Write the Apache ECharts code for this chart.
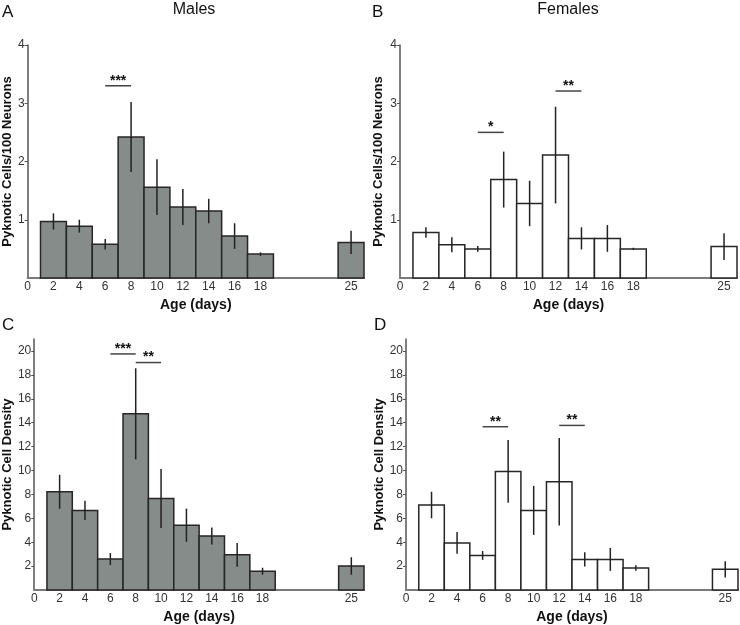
<!DOCTYPE html>
<html>
<head>
<meta charset="utf-8">
<script src="https://cdn.jsdelivr.net/npm/echarts@6/dist/echarts.min.js"></script>
<style>
  html, body { margin: 0; padding: 0; background: #fff; }
  #main { width: 740px; height: 625px; }
</style>
</head>
<body>
<div id="main"></div>
<script>
// ages (days) and bar values, error half-widths
const ages = [2, 4, 6, 8, 10, 12, 14, 16, 18, 25];
const xTickLabels = [0, 2, 4, 6, 8, 10, 12, 14, 16, 18, 25];

const malesCells = [0.97, 0.89, 0.58, 2.42, 1.56, 1.22, 1.15, 0.72, 0.41, 0.61];
const malesCellsErr = [0.14, 0.11, 0.09, 0.60, 0.48, 0.31, 0.21, 0.22, 0.03, 0.20];
const femalesCells = [0.78, 0.57, 0.50, 1.69, 1.28, 2.11, 0.68, 0.68, 0.50, 0.54];
const femalesCellsErr = [0.09, 0.13, 0.05, 0.48, 0.39, 0.83, 0.19, 0.23, 0.02, 0.23];

const malesDensity = [8.22, 6.66, 2.59, 14.74, 7.66, 5.42, 4.51, 2.94, 1.57, 2.01];
const malesDensityErr = [1.42, 0.80, 0.50, 3.81, 2.47, 1.39, 0.71, 0.99, 0.29, 0.73];
const femalesDensity = [7.11, 3.94, 2.89, 9.92, 6.66, 9.06, 2.56, 2.56, 1.84, 1.73];
const femalesDensityErr = [1.11, 0.91, 0.37, 2.63, 2.05, 3.66, 0.60, 0.96, 0.23, 0.68];

const cellsTicks = [1, 2, 3, 4];
const densityTicks = [2, 4, 6, 8, 10, 12, 14, 16, 18, 20];

// significance brackets: [from, to, height, stars]
const sigA = [[6, 8, 3.30, '***']];
const sigB = [[6, 8, 2.50, '*'], [12, 14, 3.21, '**']];
const sigC = [[6, 8, 19.75, '***'], [8, 10, 19.03, '**']];
const sigD = [[6, 8, 13.66, '**'], [12, 14, 13.77, '**']];

const FONT = '"Liberation Sans", Arial, sans-serif';
const MALE_FILL = '#868c8a';

const chart = echarts.init(document.getElementById('main'), null, { renderer: 'canvas' });

function makeBarSeries(idx, values, errs, fill) {
  return {
    type: 'custom',
    xAxisIndex: idx,
    yAxisIndex: idx,
    clip: false,
    data: ages.map((a, i) => [a, values[i], errs[i]]),
    renderItem: function (params, api) {
      const x = api.value(0), y = api.value(1), e = api.value(2);
      const p0 = api.coord([x - 1, y]);
      const p1 = api.coord([x + 1, 0]);
      const top = api.coord([x, y + e]);
      const bot = api.coord([x, y - e]);
      return {
        type: 'group',
        children: [
          {
            type: 'rect',
            shape: { x: p0[0], y: p0[1], width: p1[0] - p0[0], height: p1[1] - p0[1] },
            style: { fill: fill, stroke: '#262626', lineWidth: 1.5 }
          },
          {
            type: 'line',
            shape: { x1: top[0], y1: top[1], x2: bot[0], y2: bot[1] },
            style: { stroke: '#222', lineWidth: 1.5 }
          }
        ]
      };
    }
  };
}

function makeSigSeries(idx, sig) {
  return {
    type: 'custom',
    xAxisIndex: idx,
    yAxisIndex: idx,
    clip: false,
    data: sig.map(s => [s[0], s[1], s[2]]),
    renderItem: function (params, api) {
      const a = api.coord([api.value(0), api.value(2)]);
      const b = api.coord([api.value(1), api.value(2)]);
      return {
        type: 'group',
        children: [
          {
            type: 'line',
            shape: { x1: a[0], y1: a[1], x2: b[0], y2: b[1] },
            style: { stroke: '#444', lineWidth: 1.5 }
          },
          {
            type: 'text',
            style: {
              text: sig[params.dataIndex][3],
              x: (a[0] + b[0]) / 2,
              y: a[1] + 2,
              align: 'center',
              verticalAlign: 'bottom',
              font: 'bold 14px ' + FONT,
              fill: '#111'
            }
          }
        ]
      };
    }
  };
}

function makeXAxis(idx) {
  return {
    type: 'value',
    gridIndex: idx,
    min: 0,
    max: 26,
    interval: 1,
    name: 'Age (days)',
    nameLocation: 'middle',
    nameGap: 20,
    nameTextStyle: { fontFamily: FONT, fontWeight: 'bold', fontSize: 14, color: '#111' },
    axisLine: { show: true, lineStyle: { color: '#7a7a7a', width: 2 } },
    axisTick: { show: false },
    splitLine: { show: false },
    axisLabel: {
      customValues: xTickLabels,
      margin: 3,
      fontFamily: FONT,
      fontSize: 12,
      color: '#333'
    }
  };
}

function makeYAxis(idx, max, ticks, name, gap) {
  return {
    type: 'value',
    gridIndex: idx,
    min: 0,
    max: max,
    name: name,
    nameLocation: 'middle',
    nameGap: gap,
    nameTextStyle: { fontFamily: FONT, fontWeight: 'bold', fontSize: 13, color: '#111' },
    axisLine: { show: true, lineStyle: { color: '#555', width: 1.5 } },
    axisTick: { show: true, customValues: ticks, length: 3, lineStyle: { color: '#555' } },
    splitLine: { show: false },
    axisLabel: {
      customValues: ticks,
      margin: 3,
      fontFamily: FONT,
      fontSize: 12,
      color: '#333'
    }
  };
}

const titleStyle = { fontFamily: FONT, fontWeight: 'normal', color: '#111' };

const option = {
  backgroundColor: '#fff',
  animation: false,
  title: [
    { text: 'A', left: 2, top: 4, padding: 0, textStyle: Object.assign({ fontSize: 17 }, titleStyle) },
    { text: 'Males', left: 194, top: 2, padding: 0, textAlign: 'center', textStyle: Object.assign({ fontSize: 16 }, titleStyle) },
    { text: 'B', left: 372, top: 4, padding: 0, textStyle: Object.assign({ fontSize: 17 }, titleStyle) },
    { text: 'Females', left: 568, top: 2, padding: 0, textAlign: 'center', textStyle: Object.assign({ fontSize: 16 }, titleStyle) },
    { text: 'C', left: 2, top: 317, padding: 0, textStyle: Object.assign({ fontSize: 17 }, titleStyle) },
    { text: 'D', left: 374, top: 317, padding: 0, textStyle: Object.assign({ fontSize: 17 }, titleStyle) }
  ],
  grid: [
    { left: 27, top: 45, width: 337, height: 233 },
    { left: 400, top: 45, width: 337, height: 233 },
    { left: 33, top: 339, width: 331, height: 254 },
    { left: 406, top: 339, width: 332, height: 254 }
  ],
  xAxis: [makeXAxis(0), makeXAxis(1), makeXAxis(2), makeXAxis(3)],
  yAxis: [
    makeYAxis(0, 4, cellsTicks, 'Pyknotic Cells/100 Neurons', 12),
    makeYAxis(1, 4, cellsTicks, 'Pyknotic Cells/100 Neurons', 15),
    makeYAxis(2, 21, densityTicks, 'Pyknotic Cell Density', 17),
    makeYAxis(3, 21, densityTicks, 'Pyknotic Cell Density', 20)
  ],
  series: [
    makeBarSeries(0, malesCells, malesCellsErr, MALE_FILL),
    makeBarSeries(1, femalesCells, femalesCellsErr, '#fff'),
    makeBarSeries(2, malesDensity, malesDensityErr, MALE_FILL),
    makeBarSeries(3, femalesDensity, femalesDensityErr, '#fff'),
    makeSigSeries(0, sigA),
    makeSigSeries(1, sigB),
    makeSigSeries(2, sigC),
    makeSigSeries(3, sigD)
  ]
};

chart.setOption(option);
</script>
</body>
</html>
